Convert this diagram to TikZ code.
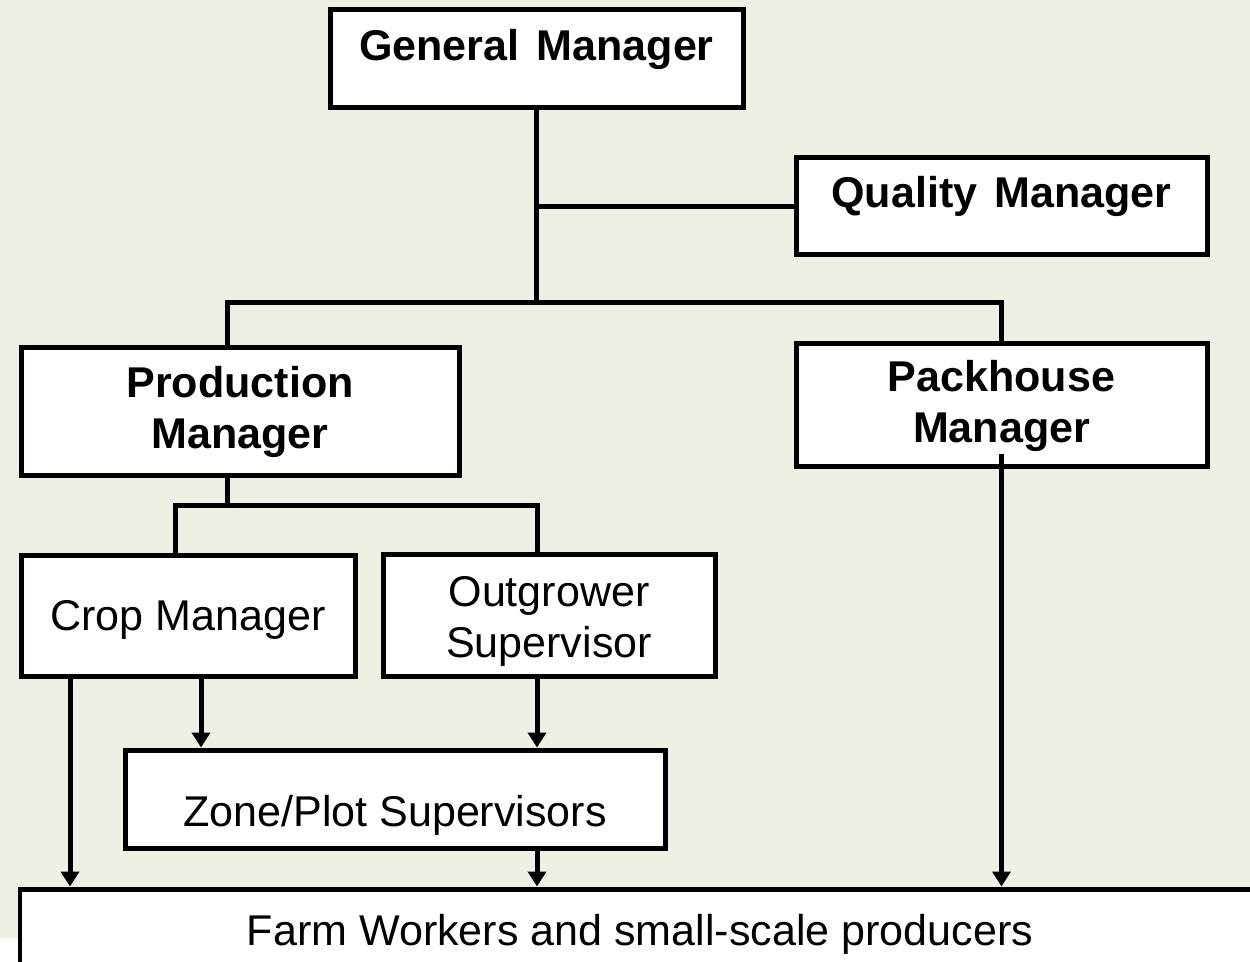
\documentclass[tikz,border=0pt]{standalone}
\usepackage{fontspec}
\setmainfont{Liberation Sans}
\usepackage{xcolor}
\usetikzlibrary{arrows.meta}

\definecolor{bgbeige}{RGB}{240,239,228}
\newlength{\pix}
\setlength{\pix}{0.02cm}
% struts that fix the space above the first and below the last line
\newcommand{\topgap}[1]{\rule{0pt}{#1\pix}}
\newcommand{\botgap}[1]{\rule[-#1\pix]{0pt}{0pt}}

\tikzset{
    box/.style={draw, line width=0.1cm, fill=white, inner sep=0pt, align=center,
        font=\fontsize{24.5}{28.5}\selectfont},
    head/.style={box, font=\fontsize{24.5}{28.5}\selectfont\bfseries},
    link/.style={line width=0.1cm},
    arr/.style={line width=0.1cm, -{Triangle[width=0.36cm,length=0.3cm]}}
}

\begin{document}
\begin{tikzpicture}[x=0.02cm, y=-0.02cm]
    \clip (0,0) rectangle (1250,962);
    \fill[bgbeige] (0,0) rectangle (1250,962);
    \fill[white] (0,938) rectangle (20,962);

    % managers
    \node[head, minimum width=413\pix] (gm) at (536.5,59) {\topgap{51}General\hspace{0.4em}Manager\botgap{47}};
    \node[head, minimum width=411\pix] (qm) at (1001.5,206.5) {\topgap{50}Quality\hspace{0.4em}Manager\botgap{47}};
    \node[head, minimum width=438\pix] (pm) at (240,411.5) {\topgap{50}Production\\Manager\botgap{27}};
    \node[head, minimum width=411\pix] (pk) at (1001.5,405) {\topgap{48}Packhouse\\Manager\botgap{24}};

    % supervisors and workers
    \node[box, minimum width=334\pix] (cm) at (188,615.5) {\topgap{75}Crop Manager\botgap{46}};
    \node[box, minimum width=332\pix] (os) at (549,615.5) {\topgap{52}Outgrower\\Supervisor\botgap{19}};
    \node[box, minimum width=540\pix] (zone) at (395,799) {\topgap{76}Zone/Plot Supervisors\botgap{22}};
    \node[box, minimum width=1240\pix] (farm) at (640,944.5) {\topgap{56}Farm Workers and small-scale producers\botgap{55}};

    % tree lines
    \draw[link] (gm.south) -- (gm.south |- 0,303);
    \draw[link] (gm.south |- qm.west) -- (qm.west);
    \draw[link] (pm.north -| 227,0) |- (pk.north |- 0,303) -- (pk.north);
    \draw[link] (pm.south -| 227,0) -- (227,505);
    \draw[link] (cm.north -| 175,0) |- (537,505) -- (os.north -| 537,0);

    % arrows down to the workers
    \draw[arr] (cm.south -| 70,0) -- (farm.north -| 70,0);
    \draw[arr] (cm.south -| 201,0) -- (zone.north -| 201,0);
    \draw[arr] (os.south -| 537,0) -- (zone.north -| 537,0);
    \draw[arr] (zone.south -| 537,0) -- (farm.north -| 537,0);
    \draw[arr] ([yshift=0.3cm]pk.south) -- (farm.north -| pk.south);
\end{tikzpicture}
\end{document}
